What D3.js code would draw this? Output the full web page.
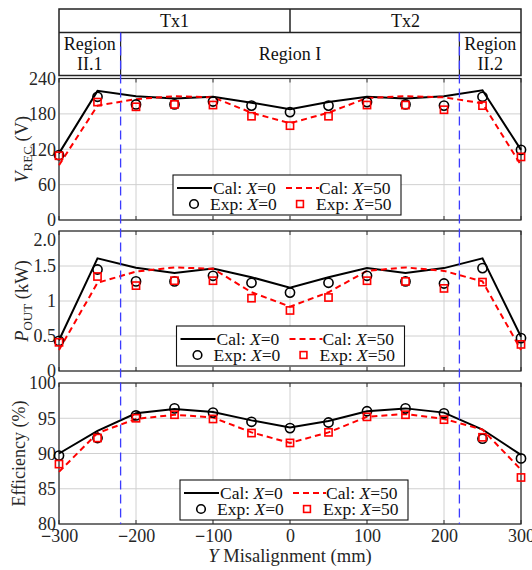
<!DOCTYPE html>
<html><head><meta charset="utf-8">
<script src="https://cdn.jsdelivr.net/npm/d3@7"></script>
<style>
html,body{margin:0;padding:0;background:#fff;}
svg{display:block;}
svg text{font-family:'Liberation Serif','Times New Roman',serif !important;}
</style></head>
<body>
<svg id="chart" width="532" height="570"></svg>
<script>
// ---- data ----
const yMis = [-300,-250,-200,-150,-100,-50,0,50,100,150,200,250,300];
const xTicks = [-300,-200,-100,0,100,200,300];
const regionBounds = [-220, 220];

const vrecCal0  = [113,219,210,206,209,199,188,200,209,206,210,220,119];
const vrecCal50 = [93,194,205,210,208,182,164,182,207,210,208,198,93];
const vrecExp0  = [110,209,196,196,201,194,183,194,200,196,194,209,119];
const vrecExp50 = [109,200,192,196,195,176,160,176,195,195,187,194,107];
const vrecTicks = [0,60,120,180,240];

const poutCal0  = [0.44,1.61,1.475,1.40,1.465,1.34,1.19,1.34,1.47,1.40,1.47,1.61,0.49];
const poutCal50 = [0.30,1.26,1.42,1.48,1.46,1.125,0.92,1.125,1.43,1.48,1.43,1.28,0.30];
const poutExp0  = [0.43,1.45,1.28,1.28,1.36,1.26,1.12,1.26,1.36,1.28,1.25,1.47,0.47];
const poutExp50 = [0.41,1.35,1.22,1.29,1.29,1.04,0.865,1.05,1.29,1.28,1.18,1.27,0.38];
const poutTicks = [0,0.5,1,1.5,2.0];
const poutTickLabels = ["0","0.5","1","1.5","2.0"];

const effCal0  = [90.0,93.2,95.7,96.3,95.9,94.7,93.7,94.6,96.0,96.4,95.8,93.4,89.8];
const effCal50 = [87.4,92.9,94.9,95.5,95.1,93.0,91.5,93.0,95.2,95.6,94.9,93.4,87.7];
const effExp0  = [89.7,92.2,95.4,96.4,95.8,94.5,93.6,94.4,96.0,96.4,95.7,92.1,89.3];
const effExp50 = [88.5,92.2,95.0,95.5,94.9,92.9,91.5,93.0,95.2,95.5,94.8,92.3,86.6];
const effTicks = [80,85,90,95,100];

const legendLabels = ["Cal: ", "Cal: ", "Exp: ", "Exp: "];
const legendX = ["0","50","0","50"];

// ---- layout ----
const svg = d3.select("#chart");
const SERIF = "'Liberation Serif','Times New Roman',serif";
const TXT = "#262626";
const L = 59, R = 521;
const x = d3.scaleLinear().domain([-300,300]).range([L,R]);
const FONT = 18;

const panels = [
  {top:78.5, bot:220, domain:[0,240], ticks:vrecTicks, labels:vrecTicks.map(String),
   cal0:vrecCal0, cal50:vrecCal50, exp0:vrecExp0, exp50:vrecExp50, legTop:175},
  {top:231, bot:371, domain:[0,2], ticks:poutTicks, labels:poutTickLabels,
   cal0:poutCal0, cal50:poutCal50, exp0:poutExp0, exp50:poutExp50, legTop:326},
  {top:383, bot:524, domain:[80,100], ticks:effTicks, labels:effTicks.map(String),
   cal0:effCal0, cal50:effCal50, exp0:effExp0, exp50:effExp50, legTop:480}
];

// ---- header table ----
const hdr = svg.append("g");
const hTop = 9, hMid = 32.5, hBot = 75.5;
hdr.append("rect").attr("x",L).attr("y",hTop).attr("width",R-L).attr("height",hBot-hTop)
  .attr("fill","none").attr("stroke","#222").attr("stroke-width",1.5);
hdr.append("line").attr("x1",L).attr("x2",R).attr("y1",hMid).attr("y2",hMid).attr("stroke","#222").attr("stroke-width",1.5);
hdr.append("line").attr("x1",x(0)).attr("x2",x(0)).attr("y1",hTop).attr("y2",hMid).attr("stroke","#222").attr("stroke-width",1.5);
regionBounds.forEach(b=>{
  hdr.append("line").attr("x1",x(b)).attr("x2",x(b)).attr("y1",hMid).attr("y2",hBot).attr("stroke","#222").attr("stroke-width",1.2);
});
const htxt = (t,cx,cy)=>hdr.append("text").attr("x",cx).attr("y",cy).attr("text-anchor","middle")
  .attr("dominant-baseline","central").attr("font-size",FONT).attr("font-family",SERIF).attr("fill","#111").text(t);
htxt("Tx1",(x(-300)+x(0))/2,21);
htxt("Tx2",(x(0)+x(300))/2,21);
htxt("Region",(x(-300)+x(-220))/2,44);
htxt("II.1",(x(-300)+x(-220))/2,63.5);
htxt("Region I",x(0),53.5);
htxt("Region",(x(220)+x(300))/2,44);
htxt("II.2",(x(220)+x(300))/2,63.5);

// ---- panels ----
panels.forEach((p,pi)=>{
  const y = d3.scaleLinear().domain(p.domain).range([p.bot,p.top]);
  const g = svg.append("g");
  g.selectAll(".gx").data(xTicks).enter().append("line")
    .attr("x1",d=>x(d)).attr("x2",d=>x(d)).attr("y1",p.top).attr("y2",p.bot)
    .attr("stroke","#d0d0d0").attr("stroke-width",1);
  g.selectAll(".gy").data(p.ticks).enter().append("line")
    .attr("x1",L).attr("x2",R).attr("y1",d=>y(d)).attr("y2",d=>y(d))
    .attr("stroke","#d0d0d0").attr("stroke-width",1);
  g.selectAll(".tx").data(xTicks).enter().append("line")
    .attr("x1",d=>x(d)).attr("x2",d=>x(d)).attr("y1",p.bot).attr("y2",p.bot-4)
    .attr("stroke","#333").attr("stroke-width",1);
  g.selectAll(".tx2").data(xTicks).enter().append("line")
    .attr("x1",d=>x(d)).attr("x2",d=>x(d)).attr("y1",p.top).attr("y2",p.top+4)
    .attr("stroke","#333").attr("stroke-width",1);
  const ya = d3.axisLeft(y).tickValues(p.ticks).tickFormat((d,i)=>p.labels[i]).tickSize(0).tickPadding(3);
  const yg = g.append("g").attr("transform",`translate(${L},0)`).call(ya);
  yg.attr("font-family",SERIF);
  yg.select(".domain").remove();
  yg.selectAll("text").attr("font-size",FONT).attr("font-family",SERIF).attr("fill",TXT);
  if(pi===1){ yg.selectAll("text").filter((d,i)=>i===p.ticks.length-1).attr("dy","0.8em"); }
  g.append("rect").attr("x",L).attr("y",p.top).attr("width",R-L).attr("height",p.bot-p.top)
    .attr("fill","none").attr("stroke","#262626").attr("stroke-width",1.2);

  const line = d3.line().x((d,i)=>x(yMis[i])).y(d=>y(d));
  g.append("path").datum(p.cal0).attr("d",line).attr("fill","none").attr("stroke","#000").attr("stroke-width",2);
  g.append("path").datum(p.cal50).attr("d",line).attr("fill","none").attr("stroke","#ff0000").attr("stroke-width",2).attr("stroke-dasharray","6,4");
  g.selectAll(".c").data(p.exp0).enter().append("circle")
    .attr("cx",(d,i)=>x(yMis[i])).attr("cy",d=>y(d)).attr("r",4.6)
    .attr("fill","none").attr("stroke","#000").attr("stroke-width",1.6);
  g.selectAll(".s").data(p.exp50).enter().append("rect")
    .attr("x",(d,i)=>x(yMis[i])-3.6).attr("y",d=>y(d)-3.6).attr("width",7.2).attr("height",7.2)
    .attr("fill","none").attr("stroke","#ff0000").attr("stroke-width",1.6);

  const lx = 173 + pi*3.5, ly = p.legTop, lw = 228, lh = 40;
  const lg = g.append("g");
  lg.append("rect").attr("x",lx).attr("y",ly).attr("width",lw).attr("height",lh)
    .attr("fill","#fff").attr("stroke","#111").attr("stroke-width",1.1);
  const r1 = ly+13, r2 = ly+29;
  lg.append("line").attr("x1",lx+4).attr("x2",lx+39).attr("y1",r1).attr("y2",r1).attr("stroke","#000").attr("stroke-width",2);
  lg.append("line").attr("x1",lx+113).attr("x2",lx+146).attr("y1",r1).attr("y2",r1).attr("stroke","#ff0000").attr("stroke-width",2).attr("stroke-dasharray","6,4");
  lg.append("circle").attr("cx",lx+21).attr("cy",r2).attr("r",4.3).attr("fill","none").attr("stroke","#000").attr("stroke-width",1.6);
  lg.append("rect").attr("x",lx+127-3.4).attr("y",r2-3.4).attr("width",6.8).attr("height",6.8).attr("fill","none").attr("stroke","#ff0000").attr("stroke-width",1.6);
  const lpos = [[lx+40,r1],[lx+146,r1],[lx+37,r2],[lx+143,r2]];
  lpos.forEach((pp,k)=>{
    const t = lg.append("text").attr("x",pp[0]).attr("y",pp[1]).attr("dominant-baseline","central")
      .attr("font-size",17.5).attr("font-family",SERIF).attr("fill","#111");
    t.append("tspan").text(legendLabels[k]);
    t.append("tspan").attr("font-style","italic").text("X");
    t.append("tspan").text("=" + legendX[k]);
  });
});

// ---- y titles ----
const cy = p=>(p.top+p.bot)/2;
let t1 = svg.append("text").attr("transform",`translate(28,${cy(panels[0])}) rotate(-90)`).attr("text-anchor","middle").attr("font-size",18.5).attr("font-family",SERIF).attr("fill",TXT);
t1.append("tspan").attr("font-style","italic").text("V");
t1.append("tspan").attr("font-size",13).attr("dy",4).text("REC");
t1.append("tspan").attr("dy",-4).text(" (V)");
let t2 = svg.append("text").attr("transform",`translate(28,${cy(panels[1])}) rotate(-90)`).attr("text-anchor","middle").attr("font-size",18.5).attr("font-family",SERIF).attr("fill",TXT);
t2.append("tspan").attr("font-style","italic").text("P");
t2.append("tspan").attr("font-size",13).attr("dy",4).text("OUT");
t2.append("tspan").attr("dy",-4).text(" (kW)");
svg.append("text").attr("transform",`translate(25,${cy(panels[2])}) rotate(-90)`).attr("text-anchor","middle").attr("font-size",18).attr("font-family",SERIF).attr("fill",TXT).text("Efficiency (%)");

// ---- x axis ----
const xa = d3.axisBottom(x).tickValues(xTicks).tickFormat(d=>String(Math.abs(d))).tickSize(0).tickPadding(5);
const xg = svg.append("g").attr("transform",`translate(0,${panels[2].bot})`).call(xa);
xg.attr("font-family",SERIF);
xg.select(".domain").remove();
xg.selectAll("text").attr("font-size",FONT).attr("font-family",SERIF).attr("fill",TXT)
  .each(function(d){
    if(d<0){
      const s = d3.select(this); const num = s.text(); s.text("");
      s.append("tspan").attr("font-weight","bold").text("\u2212");
      s.append("tspan").text(num);
    }
  });
const xt = svg.append("text").attr("x",x(0)).attr("y",562).attr("text-anchor","middle").attr("font-size",18.5).attr("font-family",SERIF).attr("fill",TXT);
xt.append("tspan").attr("font-style","italic").text("Y");
xt.append("tspan").text(" Misalignment (mm)");

// ---- region boundary lines ----
regionBounds.forEach(b=>{
  svg.append("line").attr("x1",x(b)).attr("x2",x(b)).attr("y1",hMid).attr("y2",panels[2].bot)
    .attr("stroke","#3b3bff").attr("stroke-width",1.3).attr("stroke-dasharray","9,5");
});
</script>
</body></html>
